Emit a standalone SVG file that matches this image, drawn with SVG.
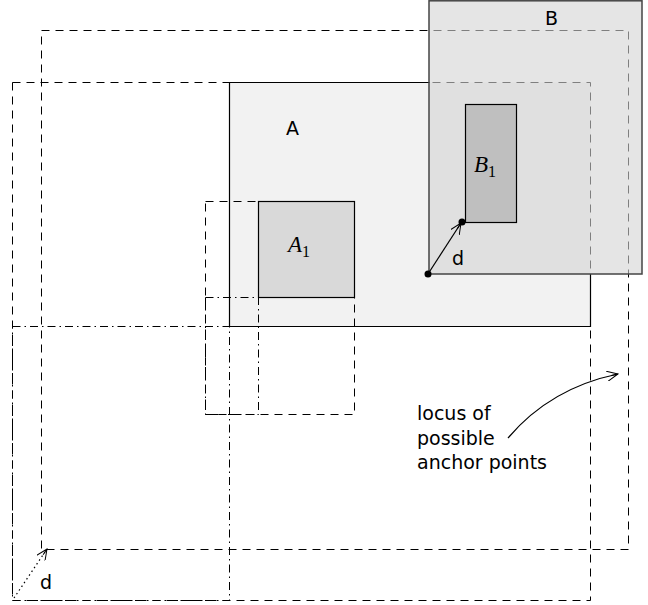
<svg xmlns="http://www.w3.org/2000/svg" width="648" height="605" viewBox="0 0 648 605">
<defs>
<style>
.lbl{font-family:"DejaVu Sans","Open Sans",sans-serif;font-size:19px;fill:#000}
.math{font-family:"Liberation Serif",serif;font-style:italic;font-size:23px;fill:#000}
.sub{font-family:"Liberation Serif",serif;font-style:normal;font-size:16px}
.dash{fill:none;stroke:#000;stroke-width:1;stroke-dasharray:8 6}
.dashdot{fill:none;stroke:#000;stroke-width:1;stroke-dasharray:8 4 1.5 4}
.solid{fill:none;stroke:#000;stroke-width:1.2}
</style>
<marker id="open" viewBox="0 0 12 10" refX="11" refY="5" markerWidth="12" markerHeight="10" markerUnits="userSpaceOnUse" orient="auto">
<path d="M0,0 L11,5 L0,10 M4,5 L11,5" fill="none" stroke="#000" stroke-width="1"/>
</marker>
</defs>
<rect width="648" height="605" fill="#fff"/>
<g id="A">
<rect x="229.5" y="82.5" width="361" height="244" fill="#f2f2f2"/>
<path class="solid" d="M430,82.5 H229.5 V326.5 H590.5 V274"/>
</g>
<g id="A1">
<rect x="258.5" y="201.5" width="96" height="96" fill="#d9d9d9" stroke="#000" stroke-width="1.2"/>
<text class="math" x="288" y="252">A<tspan class="sub" dy="5">1</tspan></text>
</g>
<g id="loci">
<rect class="dash" x="41.5" y="30.5" width="587" height="519"/>
<rect class="dash" x="12.5" y="82.5" width="578" height="518"/>
<rect class="dashdot" x="12.5" y="326.5" width="217" height="274"/>
<rect class="dash" x="205.5" y="201.5" width="149" height="213"/>
<rect class="dashdot" x="205.5" y="297.5" width="53" height="117"/>
</g>
<g id="B">
<rect x="429" y="0.8" width="213" height="273.2" fill="#d4d4d4" fill-opacity="0.6" stroke="#444" stroke-width="1.5"/>
<text class="lbl" x="545" y="25">B</text>
</g>
<text class="lbl" x="286" y="135">A</text>
<g id="B1">
<rect x="465.5" y="104.5" width="51" height="118" fill="#bfbfbf" stroke="#000" stroke-width="1.2"/>
<text class="math" x="474" y="172">B<tspan class="sub" dy="5">1</tspan></text>
</g>
<g id="connectors">
<line x1="428" y1="274" x2="461" y2="223" stroke="#000" stroke-width="1.2" marker-end="url(#open)"/>
<circle cx="428" cy="274" r="3.5" fill="#000"/>
<circle cx="462" cy="222" r="3.5" fill="#000"/>
<line x1="14" y1="598" x2="47" y2="549" stroke="#000" stroke-width="1.2" stroke-dasharray="1.5 3" marker-end="url(#open)"/>
<path d="M508,438 C530,412 565,385 618,374" fill="none" stroke="#000" stroke-width="1.2" marker-end="url(#open)"/>
</g>
<g id="labels">
<text class="lbl" x="452" y="265">d</text>
<text class="lbl" x="40" y="589">d</text>
<text class="lbl" x="417" y="420">locus of</text>
<text class="lbl" x="417" y="444.5">possible</text>
<text class="lbl" x="417" y="469">anchor points</text>
</g>
</svg>
